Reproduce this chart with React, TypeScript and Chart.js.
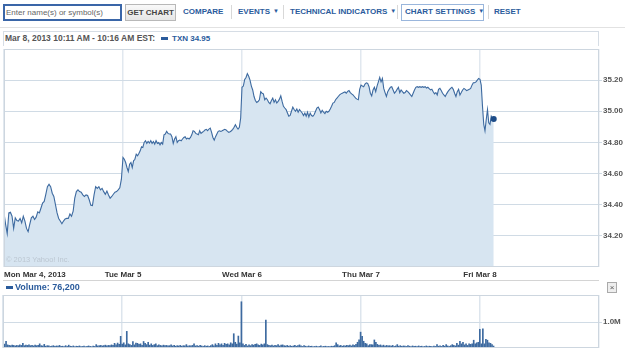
import React, { useEffect, useRef } from 'react';
import { Chart, registerables } from 'chart.js';
Chart.register(...registerables);

// ---- data ----
const DAY_LABELS = ['Mon Mar 4, 2013', 'Tue Mar 5', 'Wed Mar 6', 'Thu Mar 7', 'Fri Mar 8', ''];
const DAY_TICKS = [0, 1, 2, 3, 4, 5];
const PRICE_TICKS = [34.2, 34.4, 34.6, 34.8, 35.0, 35.2];
const PRICE_MIN = 34.0;
const PRICE_MAX = 35.4;
const VOLUME_TICKS = [1.0];
const VOLUME_MAX = 2.04;
const BARS_PER_DAY = 78;
const FRI_SESSION_FRACTION = 45 / 390;

const MON_PRICE = [34.347,34.274,34.215,34.347,34.352,34.326,34.248,34.316,34.299,34.295,34.312,34.284,34.326,34.295,34.248,34.227,34.274,34.316,34.326,34.305,34.320,34.354,34.347,34.379,34.411,34.421,34.467,34.516,34.531,34.516,34.474,34.453,34.400,34.347,34.312,34.295,34.278,34.295,34.309,34.312,34.312,34.341,34.326,34.358,34.442,34.484,34.495,34.484,34.480,34.463,34.453,34.463,34.459,34.432,34.396,34.394,34.463,34.516,34.505,34.516,34.495,34.505,34.484,34.467,34.488,34.463,34.442,34.453,34.467,34.480,34.484,34.495,34.509,34.564];
const TUE_PRICE = [34.703,34.692,34.671,34.639,34.613,34.660,34.671,34.639,34.682,34.692,34.725,34.714,34.729,34.746,34.772,34.768,34.800,34.811,34.794,34.806,34.796,34.811,34.794,34.806,34.789,34.811,34.794,34.800,34.785,34.800,34.789,34.849,34.854,34.871,34.858,34.854,34.854,34.837,34.794,34.822,34.837,34.800,34.811,34.815,34.811,34.822,34.832,34.837,34.822,34.828,34.822,34.832,34.849,34.875,34.871,34.858,34.854,34.849,34.875,34.858,34.865,34.871,34.880,34.884,34.875,34.886,34.892,34.865,34.832,34.815,34.837,34.854,34.871,34.875,34.871,34.875,34.880,34.884,34.880,34.871,34.865,34.869,34.875,34.884,34.897,34.914,34.897,34.886,34.897,34.957];
const WED_PRICE = [35.154,35.162,35.204,35.217,35.242,35.225,35.200,35.162,35.137,35.095,35.069,35.057,35.063,35.074,35.126,35.116,35.112,35.074,35.084,35.074,35.057,35.048,35.069,35.084,35.057,35.074,35.053,35.063,35.078,35.099,35.063,35.032,35.021,35.011,34.989,34.968,34.973,35.000,35.027,35.011,35.000,35.015,34.994,35.011,35.000,34.989,34.973,34.989,34.968,34.994,34.964,34.989,34.973,34.968,34.979,35.000,35.021,35.027,35.011,34.989,35.006,34.994,34.985,35.000,34.994,35.000,35.015,35.032,35.053,35.057,35.074,35.084,35.095,35.105,35.112,35.116,35.120,35.124,35.116,35.128,35.133,35.120,35.112,35.105,35.095,35.084,35.078,35.074,35.141];
const THU_PRICE = [35.168,35.162,35.158,35.175,35.183,35.179,35.158,35.116,35.099,35.137,35.154,35.126,35.162,35.189,35.217,35.189,35.211,35.147,35.120,35.095,35.126,35.141,35.154,35.158,35.137,35.116,35.126,35.141,35.154,35.120,35.137,35.126,35.116,35.120,35.133,35.126,35.116,35.105,35.095,35.116,35.137,35.154,35.158,35.154,35.158,35.154,35.158,35.154,35.158,35.149,35.154,35.145,35.137,35.141,35.126,35.112,35.120,35.105,35.141,35.147,35.133,35.116,35.105,35.095,35.112,35.126,35.137,35.147,35.154,35.141,35.116,35.095,35.126,35.141,35.105,35.120,35.137,35.147,35.141,35.133,35.137,35.141,35.147,35.168,35.183,35.183,35.189,35.200,35.211];
const FRI_PRICE = [35.205,35.168,35.032,34.916,34.874,34.947,35.011,34.926,34.916,34.968,34.952,34.950];

const MON_VOL = [0.37,0.15,0.26,0.12,0.10,0.09,0.11,0.10,0.08,0.10,0.09,0.12,0.10,0.18,0.09,0.11,0.10,0.12,0.09,0.10,0.08,0.11,0.09,0.10,0.16,0.09,0.08,0.14,0.07,0.09,0.08,0.06,0.07,0.09,0.06,0.08,0.07,0.10,0.06,0.07,0.05,0.09,0.06,0.11,0.07,0.06,0.08,0.05,0.07,0.06,0.08,0.05,0.06,0.07,0.05,0.06,0.08,0.06,0.05,0.07,0.06,0.13,0.08,0.09,0.10,0.08,0.09,0.11,0.08,0.10,0.09,0.12,0.10,0.18,0.12,0.19,0.14,0.45];
const TUE_VOL = [0.15,0.20,0.12,0.64,0.16,0.13,0.10,0.25,0.12,0.19,0.18,0.14,0.16,0.10,0.25,0.18,0.13,0.22,0.11,0.16,0.10,0.13,0.16,0.09,0.12,0.10,0.08,0.11,0.09,0.10,0.08,0.09,0.12,0.08,0.10,0.07,0.09,0.08,0.10,0.07,0.09,0.08,0.13,0.07,0.09,0.08,0.10,0.16,0.08,0.09,0.07,0.10,0.08,0.06,0.09,0.07,0.08,0.06,0.09,0.13,0.08,0.16,0.10,0.18,0.12,0.16,0.10,0.18,0.14,0.16,0.12,0.20,0.16,0.55,0.22,0.15,0.46,0.20];
const WED_VOL = [1.78,0.16,0.10,0.14,0.08,0.12,0.09,0.13,0.11,0.14,0.16,0.12,0.10,0.15,0.12,0.16,1.07,0.13,0.10,0.09,0.11,0.08,0.10,0.09,0.13,0.08,0.11,0.12,0.09,0.08,0.10,0.07,0.09,0.06,0.08,0.10,0.07,0.09,0.12,0.08,0.06,0.09,0.07,0.05,0.08,0.06,0.07,0.05,0.06,0.07,0.05,0.06,0.08,0.05,0.06,0.07,0.05,0.06,0.05,0.07,0.06,0.09,0.20,0.13,0.08,0.10,0.07,0.09,0.08,0.10,0.09,0.11,0.08,0.12,0.10,0.14,0.22,0.31];
const THU_VOL = [0.61,0.45,0.26,0.18,0.16,0.09,0.13,0.13,0.12,0.31,0.22,0.14,0.10,0.12,0.08,0.11,0.07,0.10,0.08,0.09,0.07,0.10,0.06,0.08,0.13,0.07,0.09,0.06,0.08,0.07,0.06,0.09,0.07,0.05,0.08,0.06,0.07,0.05,0.08,0.06,0.07,0.05,0.06,0.08,0.05,0.07,0.06,0.05,0.07,0.06,0.13,0.07,0.08,0.06,0.10,0.07,0.13,0.08,0.06,0.09,0.13,0.10,0.08,0.18,0.11,0.26,0.16,0.22,0.12,0.16,0.10,0.16,0.14,0.16,0.30,0.16,0.20,0.22];
const FRI_VOL = [0.72,0.16,0.74,0.16,0.33,0.30,0.20,0.18,0.13,0.076];

// ---- styles ----
const FONT = "'Liberation Sans', Arial, sans-serif";
const LINK_BLUE = '#2a5b9c';
const LINE_BLUE = '#3d6aa0';
const FILL_BLUE = '#d7e5f1';

function buildPricePoints() {
  const full = [MON_PRICE, TUE_PRICE, WED_PRICE, THU_PRICE];
  const pts: { x: number; y: number }[] = [];
  full.forEach((arr, d) => arr.forEach((v, i) => pts.push({ x: d + i / arr.length, y: v })));
  FRI_PRICE.forEach((v, i) => pts.push({ x: 4 + (i / (FRI_PRICE.length - 1)) * FRI_SESSION_FRACTION, y: v }));
  return pts;
}

function buildVolumePoints() {
  const all = [MON_VOL, TUE_VOL, WED_VOL, THU_VOL, FRI_VOL];
  const pts: { x: number; y: number }[] = [];
  all.forEach((arr, d) => arr.forEach((v, i) => pts.push({ x: d + i / BARS_PER_DAY, y: v })));
  return pts;
}

const boxPlugin = {
  id: 'box',
  afterDraw(chart: any) {
    const { ctx, chartArea: a } = chart;
    ctx.save();
    ctx.strokeStyle = '#cdd6df';
    ctx.lineWidth = 1;
    ctx.strokeRect(Math.round(a.left) + 0.5, Math.round(a.top) + 0.5, Math.round(a.right - a.left) - 1, Math.round(a.bottom - a.top) - 1);
    ctx.restore();
  },
};

const fixHeight = (h: number) => (s: any) => {
  s.height = h;
  s.paddingLeft = 0; s.paddingRight = 0; s.paddingTop = 0; s.paddingBottom = 0;
};
const fixWidth = (w: number) => (s: any) => {
  s.width = w;
  s.paddingLeft = 0; s.paddingRight = 0; s.paddingTop = 0; s.paddingBottom = 0;
};

export default function App() {
  const priceRef = useRef<HTMLCanvasElement>(null);
  const volRef = useRef<HTMLCanvasElement>(null);

  useEffect(() => {
    document.body.style.margin = '0';
    const pricePoints = buildPricePoints();
    const last = pricePoints.length - 1;
    const tickFont = { family: FONT, size: 8, weight: 'bold' as const };

    const price = new Chart(priceRef.current!, {
      type: 'line',
      data: {
        datasets: [{
          data: pricePoints,
          borderColor: LINE_BLUE,
          borderWidth: 1.1,
          backgroundColor: FILL_BLUE,
          fill: 'start',
          tension: 0,
          pointRadius: (c: any) => (c.dataIndex === last ? 3 : 0),
          pointBackgroundColor: '#1d4c88',
          pointBorderWidth: 0,
        }],
      },
      options: {
        animation: false,
        responsive: false,
        events: [],
        layout: { padding: { left: 3, right: 0, top: 0, bottom: 0 } },
        plugins: { legend: { display: false }, tooltip: { enabled: false } },
        scales: {
          x: {
            type: 'linear', min: 0, max: 5, z: 1,
            afterBuildTicks: (s: any) => { s.ticks = DAY_TICKS.map((v) => ({ value: v })); },
            afterFit: fixHeight(14),
            grid: { color: '#e1e8ef', lineWidth: 1.5, drawTicks: false },
            border: { display: false },
            ticks: {
              autoSkip: false, maxRotation: 0, align: 'inner', padding: 3,
              color: '#333', font: tickFont,
              callback: (_v: any, i: number) => DAY_LABELS[i],
            },
          },
          y: {
            position: 'right', min: PRICE_MIN, max: PRICE_MAX, z: 1,
            afterBuildTicks: (s: any) => { s.ticks = PRICE_TICKS.map((v) => ({ value: v })); },
            afterFit: fixWidth(26),
            grid: { color: '#d0dbe5', lineWidth: 1, drawTicks: true, tickLength: 3, tickColor: '#d0dbe5' },
            border: { display: false },
            ticks: { padding: 1, color: '#555', font: tickFont, callback: (v: any) => Number(v).toFixed(2) },
          },
        },
      } as any,
      plugins: [boxPlugin],
    });

    const volume = new Chart(volRef.current!, {
      type: 'bar',
      data: {
        datasets: [{
          data: buildVolumePoints(),
          backgroundColor: LINE_BLUE,
          barThickness: 1,
          borderWidth: 0,
        }],
      },
      options: {
        animation: false,
        responsive: false,
        events: [],
        layout: { padding: { left: 3, right: 0, top: 0, bottom: 3 } },
        plugins: { legend: { display: false }, tooltip: { enabled: false } },
        scales: {
          x: {
            type: 'linear', min: 0, max: 5, offset: false,
            afterBuildTicks: (s: any) => { s.ticks = DAY_TICKS.map((v) => ({ value: v })); },
            afterFit: fixHeight(0),
            grid: { color: '#dde5ed', lineWidth: 1.5, drawTicks: false, offset: false },
            border: { display: false },
            ticks: { display: false },
          },
          y: {
            position: 'right', min: 0, max: VOLUME_MAX,
            afterBuildTicks: (s: any) => { s.ticks = VOLUME_TICKS.map((v) => ({ value: v })); },
            afterFit: fixWidth(26),
            grid: { color: '#d0dbe5', lineWidth: 1, drawTicks: true, tickLength: 3, tickColor: '#d0dbe5' },
            border: { display: false },
            ticks: { padding: 1, color: '#555', font: tickFont, callback: (v: any) => Number(v).toFixed(1) + 'M' },
          },
        },
      } as any,
      plugins: [boxPlugin],
    });

    return () => { price.destroy(); volume.destroy(); };
  }, []);

  const abs = (s: React.CSSProperties): React.CSSProperties => ({ position: 'absolute', ...s });
  const link = (left: number, text: string, arrow = false) => (
    <div style={abs({ left, top: 5, height: 14, lineHeight: '14px', fontSize: 8, fontWeight: 'bold', color: LINK_BLUE, whiteSpace: 'nowrap' })}>
      {text}{arrow ? <span style={{ fontSize: 6, marginLeft: 3, position: 'relative', top: -1 }}>▼</span> : null}
    </div>
  );
  const sep = (left: number) => <div style={abs({ left, top: 5, width: 1, height: 14, background: '#d8d8d8' })} />;

  return (
    <div style={{ position: 'fixed', left: 0, top: 0, width: 625, height: 351, background: '#fff', fontFamily: FONT, overflow: 'hidden' }}>
      {/* toolbar */}
      <div style={abs({ left: 3, top: 4, width: 119, height: 17, boxSizing: 'border-box', border: '2px solid #3a66a8', background: '#fff' })} />
      <div style={abs({ left: 6, top: 5, height: 15, lineHeight: '15px', fontSize: 8, color: '#666', whiteSpace: 'nowrap' })}>Enter name(s) or symbol(s)</div>
      <div style={abs({ left: 125, top: 4, width: 51, height: 17, boxSizing: 'border-box', border: '1px solid #b8b8b8', background: 'linear-gradient(#f9f9f9,#e6e6e6)', fontSize: 8, fontWeight: 'bold', color: '#444', lineHeight: '15px', textAlign: 'center', whiteSpace: 'nowrap' })}>GET CHART</div>
      {link(183, 'COMPARE')}
      {sep(231)}
      {link(238, 'EVENTS', true)}
      {sep(283)}
      {link(290, 'TECHNICAL INDICATORS', true)}
      {sep(397)}
      <div style={abs({ left: 401, top: 4, width: 83, height: 17, boxSizing: 'border-box', border: '1px solid #9ab6dc' })} />
      {link(405, 'CHART SETTINGS', true)}
      {sep(488)}
      {link(494, 'RESET')}
      <div style={abs({ left: 0, top: 27, width: 625, height: 1, background: '#e2e2e2' })} />

      {/* header */}
      <div style={abs({ left: 3, top: 31, width: 596, height: 15, boxSizing: 'border-box', border: '1px solid #d6dde5', borderBottom: 'none' })} />
      <div style={abs({ left: 5, top: 32, height: 13, lineHeight: '13px', fontSize: 8.5, fontWeight: 'bold', color: '#555', whiteSpace: 'nowrap' })}>Mar 8, 2013 10:11 AM - 10:16 AM EST:</div>
      <div style={abs({ left: 161, top: 37, width: 7, height: 3, background: LINK_BLUE })} />
      <div style={abs({ left: 172, top: 32, height: 13, lineHeight: '13px', fontSize: 8, fontWeight: 'bold', color: LINK_BLUE, whiteSpace: 'nowrap' })}>TXN 34.95</div>

      {/* price chart */}
      <canvas ref={priceRef} width={625} height={236} style={abs({ left: 0, top: 45, width: 625, height: 236 })} />
      <div style={abs({ left: 6, top: 254, height: 11, lineHeight: '11px', fontSize: 7.5, color: '#bcc7d2', whiteSpace: 'nowrap' })}>© 2013 Yahoo! Inc.</div>
      <div style={abs({ left: 3, top: 280, width: 596, height: 1, background: '#d4d4d4' })} />

      {/* volume header */}
      <div style={abs({ left: 6, top: 286, width: 7, height: 3, background: LINK_BLUE })} />
      <div style={abs({ left: 15, top: 281, height: 13, lineHeight: '13px', fontSize: 9, fontWeight: 'bold', color: LINK_BLUE, whiteSpace: 'nowrap' })}>Volume: 76,200</div>
      <div style={abs({ left: 607, top: 282, width: 10, height: 11, boxSizing: 'border-box', border: '1px solid #aaa', background: '#eee', fontSize: 8, lineHeight: '9px', textAlign: 'center', color: '#555' })}>×</div>

      {/* volume chart */}
      <canvas ref={volRef} width={625} height={56} style={abs({ left: 0, top: 295, width: 625, height: 56 })} />
    </div>
  );
}
